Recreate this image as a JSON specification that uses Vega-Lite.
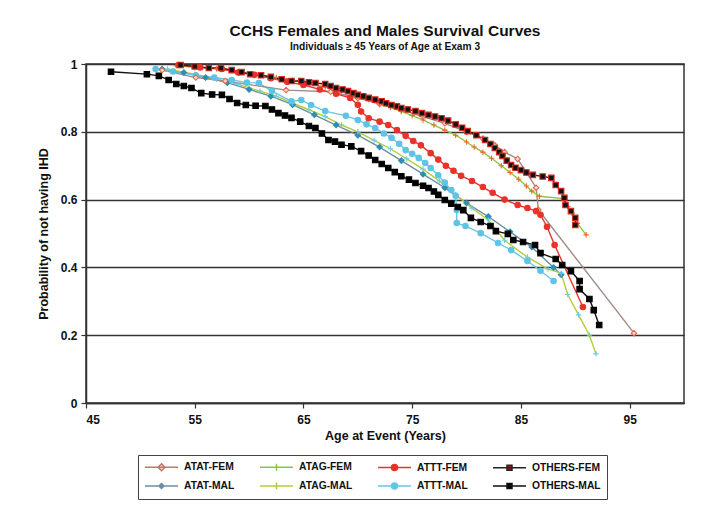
{
  "$schema": "https://vega.github.io/schema/vega-lite/v6.json",
  "width": 598,
  "height": 339,
  "padding": {"left": 37, "top": 24, "right": 38, "bottom": 5},
  "background": "white",
  "title": {
    "text": "CCHS Females and Males Survival Curves",
    "subtitle": "Individuals ≥ 45 Years of Age at Exam 3",
    "font": "Liberation Sans", "fontSize": 15.5, "fontWeight": "bold", "color": "#111",
    "subtitleFont": "Liberation Sans", "subtitleFontSize": 10.2, "subtitleFontWeight": "bold", "subtitleColor": "#111",
    "subtitlePadding": 2, "offset": 6, "anchor": "middle"
  },
  "config": {
    "view": {"stroke": "#333", "strokeWidth": 1.5},
    "font": "Liberation Sans",
    "legend": {
      "title": null, "orient": "none", "legendX": 52, "legendY": 391, "direction": "horizontal", "columns": 4, "columnPadding": 22, "rowPadding": 5,
      "gridAlign": "each",
      "strokeColor": "#444", "padding": 6,
      "labelFont": "Liberation Sans", "labelFontWeight": "bold", "labelFontSize": 10.3, "labelColor": "#111", "labelOffset": 28,
      "symbolSize": 100, "symbolStrokeWidth": 1.5, "symbolOpacity": 1
    }
  },
  "resolve": {
    "scale": {"shape": "independent", "fill": "independent", "stroke": "independent"},
    "legend": {"shape": "independent", "fill": "independent", "stroke": "independent"}
  },
  "data": {"values": [
    {"s":"ATAT-MAL","a":52,"p":0.985},{"s":"ATAT-MAL","a":54,"p":0.975},{"s":"ATAT-MAL","a":56,"p":0.96},{"s":"ATAT-MAL","a":58,"p":0.945},{"s":"ATAT-MAL","a":60,"p":0.925},{"s":"ATAT-MAL","a":62,"p":0.905},{"s":"ATAT-MAL","a":64,"p":0.88},{"s":"ATAT-MAL","a":66,"p":0.85},{"s":"ATAT-MAL","a":68,"p":0.82},{"s":"ATAT-MAL","a":70,"p":0.79},{"s":"ATAT-MAL","a":72,"p":0.755},{"s":"ATAT-MAL","a":74,"p":0.715},{"s":"ATAT-MAL","a":76,"p":0.675},{"s":"ATAT-MAL","a":78,"p":0.635},{"s":"ATAT-MAL","a":80,"p":0.59},{"s":"ATAT-MAL","a":82,"p":0.55},{"s":"ATAT-MAL","a":84,"p":0.505},{"s":"ATAT-MAL","a":86,"p":0.46},{"s":"ATAT-MAL","a":88,"p":0.4},{"s":"ATAT-MAL","a":88.7,"p":0.378},

    {"s":"ATAG-MAL","a":52.5,"p":0.985},{"s":"ATAG-MAL","a":55,"p":0.97},{"s":"ATAG-MAL","a":57,"p":0.955},{"s":"ATAG-MAL","a":59,"p":0.94},{"s":"ATAG-MAL","a":61,"p":0.92},{"s":"ATAG-MAL","a":62.5,"p":0.905},{"s":"ATAG-MAL","a":64,"p":0.885},{"s":"ATAG-MAL","a":65.5,"p":0.865},{"s":"ATAG-MAL","a":67,"p":0.845},{"s":"ATAG-MAL","a":68.5,"p":0.82},{"s":"ATAG-MAL","a":70,"p":0.8},{"s":"ATAG-MAL","a":71.5,"p":0.775},{"s":"ATAG-MAL","a":73,"p":0.75},{"s":"ATAG-MAL","a":74.5,"p":0.72},{"s":"ATAG-MAL","a":76,"p":0.69},{"s":"ATAG-MAL","a":77.5,"p":0.655},{"s":"ATAG-MAL","a":79,"p":0.615},{"s":"ATAG-MAL","a":80.5,"p":0.575},{"s":"ATAG-MAL","a":82,"p":0.54},{"s":"ATAG-MAL","a":83.5,"p":0.48},{"s":"ATAG-MAL","a":85.6,"p":0.43},{"s":"ATAG-MAL","a":87.5,"p":0.395},{"s":"ATAG-MAL","a":88.7,"p":0.383},{"s":"ATAG-MAL","a":89.3,"p":0.32},{"s":"ATAG-MAL","a":90.3,"p":0.26},{"s":"ATAG-MAL","a":91.3,"p":0.2},{"s":"ATAG-MAL","a":91.9,"p":0.145},

    {"s":"ATTT-MAL","a":51.4,"p":0.985},{"s":"ATTT-MAL","a":53,"p":0.978},{"s":"ATTT-MAL","a":55.1,"p":0.967},{"s":"ATTT-MAL","a":56.8,"p":0.96},{"s":"ATTT-MAL","a":58.4,"p":0.953},{"s":"ATTT-MAL","a":59.8,"p":0.945},{"s":"ATTT-MAL","a":60.9,"p":0.944},{"s":"ATTT-MAL","a":62.1,"p":0.92},{"s":"ATTT-MAL","a":63.9,"p":0.89},{"s":"ATTT-MAL","a":64.8,"p":0.894},{"s":"ATTT-MAL","a":65.7,"p":0.879},{"s":"ATTT-MAL","a":67,"p":0.861},{"s":"ATTT-MAL","a":68.9,"p":0.847},{"s":"ATTT-MAL","a":70,"p":0.835},{"s":"ATTT-MAL","a":70.8,"p":0.822},{"s":"ATTT-MAL","a":71.6,"p":0.811},{"s":"ATTT-MAL","a":72.4,"p":0.795},{"s":"ATTT-MAL","a":73.1,"p":0.782},{"s":"ATTT-MAL","a":73.8,"p":0.765},{"s":"ATTT-MAL","a":74.4,"p":0.746},{"s":"ATTT-MAL","a":75,"p":0.735},{"s":"ATTT-MAL","a":75.6,"p":0.723},{"s":"ATTT-MAL","a":76.2,"p":0.708},{"s":"ATTT-MAL","a":76.7,"p":0.693},{"s":"ATTT-MAL","a":77.4,"p":0.672},{"s":"ATTT-MAL","a":78,"p":0.65},{"s":"ATTT-MAL","a":78.6,"p":0.628},{"s":"ATTT-MAL","a":79,"p":0.611},{"s":"ATTT-MAL","a":79.1,"p":0.569},{"s":"ATTT-MAL","a":79.1,"p":0.531},{"s":"ATTT-MAL","a":79.9,"p":0.522},{"s":"ATTT-MAL","a":81.3,"p":0.501},{"s":"ATTT-MAL","a":82.9,"p":0.472},{"s":"ATTT-MAL","a":84.1,"p":0.451},{"s":"ATTT-MAL","a":85.6,"p":0.419},{"s":"ATTT-MAL","a":86.8,"p":0.39},{"s":"ATTT-MAL","a":88,"p":0.36},

    {"s":"OTHERS-MAL","a":47.3,"p":0.977},{"s":"OTHERS-MAL","a":50.6,"p":0.97},{"s":"OTHERS-MAL","a":51.7,"p":0.965},{"s":"OTHERS-MAL","a":52.6,"p":0.953},{"s":"OTHERS-MAL","a":53.3,"p":0.941},{"s":"OTHERS-MAL","a":54,"p":0.935},{"s":"OTHERS-MAL","a":54.7,"p":0.929},{"s":"OTHERS-MAL","a":55.6,"p":0.914},{"s":"OTHERS-MAL","a":56.6,"p":0.91},{"s":"OTHERS-MAL","a":57.5,"p":0.909},{"s":"OTHERS-MAL","a":58.2,"p":0.897},{"s":"OTHERS-MAL","a":58.9,"p":0.885},{"s":"OTHERS-MAL","a":59.7,"p":0.879},{"s":"OTHERS-MAL","a":60.6,"p":0.877},{"s":"OTHERS-MAL","a":61.5,"p":0.876},{"s":"OTHERS-MAL","a":62.1,"p":0.866},{"s":"OTHERS-MAL","a":62.7,"p":0.855},{"s":"OTHERS-MAL","a":63.3,"p":0.848},{"s":"OTHERS-MAL","a":63.9,"p":0.841},{"s":"OTHERS-MAL","a":64.7,"p":0.83},{"s":"OTHERS-MAL","a":65.5,"p":0.817},{"s":"OTHERS-MAL","a":66.1,"p":0.811},{"s":"OTHERS-MAL","a":66.7,"p":0.795},{"s":"OTHERS-MAL","a":67.3,"p":0.776},{"s":"OTHERS-MAL","a":67.9,"p":0.771},{"s":"OTHERS-MAL","a":68.5,"p":0.762},{"s":"OTHERS-MAL","a":69.4,"p":0.757},{"s":"OTHERS-MAL","a":70.3,"p":0.743},{"s":"OTHERS-MAL","a":71,"p":0.73},{"s":"OTHERS-MAL","a":71.6,"p":0.717},{"s":"OTHERS-MAL","a":72.2,"p":0.705},{"s":"OTHERS-MAL","a":72.8,"p":0.693},{"s":"OTHERS-MAL","a":73.4,"p":0.681},{"s":"OTHERS-MAL","a":74,"p":0.669},{"s":"OTHERS-MAL","a":74.7,"p":0.659},{"s":"OTHERS-MAL","a":75.3,"p":0.649},{"s":"OTHERS-MAL","a":76,"p":0.641},{"s":"OTHERS-MAL","a":76.5,"p":0.634},{"s":"OTHERS-MAL","a":77,"p":0.624},{"s":"OTHERS-MAL","a":77.4,"p":0.614},{"s":"OTHERS-MAL","a":78,"p":0.599},{"s":"OTHERS-MAL","a":78.6,"p":0.588},{"s":"OTHERS-MAL","a":79.2,"p":0.578},{"s":"OTHERS-MAL","a":79.7,"p":0.569},{"s":"OTHERS-MAL","a":80.4,"p":0.546},{"s":"OTHERS-MAL","a":81.3,"p":0.534},{"s":"OTHERS-MAL","a":82.2,"p":0.522},{"s":"OTHERS-MAL","a":82.7,"p":0.507},{"s":"OTHERS-MAL","a":83.8,"p":0.499},{"s":"OTHERS-MAL","a":84.3,"p":0.481},{"s":"OTHERS-MAL","a":85.2,"p":0.475},{"s":"OTHERS-MAL","a":86.3,"p":0.466},{"s":"OTHERS-MAL","a":86.8,"p":0.442},{"s":"OTHERS-MAL","a":88.2,"p":0.425},{"s":"OTHERS-MAL","a":88.8,"p":0.407},{"s":"OTHERS-MAL","a":89.6,"p":0.389},{"s":"OTHERS-MAL","a":90.4,"p":0.36},{"s":"OTHERS-MAL","a":90.4,"p":0.336},{"s":"OTHERS-MAL","a":91.3,"p":0.307},{"s":"OTHERS-MAL","a":91.7,"p":0.274},{"s":"OTHERS-MAL","a":92.2,"p":0.23},

    {"s":"ATAT-FEM","a":52,"p":0.982},{"s":"ATAT-FEM","a":55.1,"p":0.96},{"s":"ATAT-FEM","a":57.8,"p":0.95},{"s":"ATAT-FEM","a":63.4,"p":0.923},{"s":"ATAT-FEM","a":67.5,"p":0.918},{"s":"ATAT-FEM","a":70,"p":0.9},{"s":"ATAT-FEM","a":72,"p":0.882},{"s":"ATAT-FEM","a":74,"p":0.865},{"s":"ATAT-FEM","a":76,"p":0.845},{"s":"ATAT-FEM","a":78,"p":0.825},{"s":"ATAT-FEM","a":80,"p":0.8},{"s":"ATAT-FEM","a":81.5,"p":0.78},{"s":"ATAT-FEM","a":82.6,"p":0.76},{"s":"ATAT-FEM","a":83.5,"p":0.74},{"s":"ATAT-FEM","a":84.7,"p":0.72},{"s":"ATAT-FEM","a":85.5,"p":0.68},{"s":"ATAT-FEM","a":86.4,"p":0.635},{"s":"ATAT-FEM","a":86.6,"p":0.57},{"s":"ATAT-FEM","a":95.4,"p":0.206},

    {"s":"ATAG-FEM","a":53.3,"p":0.995},{"s":"ATAG-FEM","a":55,"p":0.99},{"s":"ATAG-FEM","a":57,"p":0.986},{"s":"ATAG-FEM","a":59,"p":0.978},{"s":"ATAG-FEM","a":61,"p":0.968},{"s":"ATAG-FEM","a":62.5,"p":0.96},{"s":"ATAG-FEM","a":64,"p":0.952},{"s":"ATAG-FEM","a":65.5,"p":0.942},{"s":"ATAG-FEM","a":67,"p":0.932},{"s":"ATAG-FEM","a":68.5,"p":0.92},{"s":"ATAG-FEM","a":70,"p":0.905},{"s":"ATAG-FEM","a":71,"p":0.895},{"s":"ATAG-FEM","a":72,"p":0.885},{"s":"ATAG-FEM","a":73,"p":0.872},{"s":"ATAG-FEM","a":74,"p":0.86},{"s":"ATAG-FEM","a":75,"p":0.848},{"s":"ATAG-FEM","a":76,"p":0.835},{"s":"ATAG-FEM","a":77,"p":0.82},{"s":"ATAG-FEM","a":78,"p":0.805},{"s":"ATAG-FEM","a":79,"p":0.79},{"s":"ATAG-FEM","a":80,"p":0.77},{"s":"ATAG-FEM","a":80.7,"p":0.755},{"s":"ATAG-FEM","a":81.5,"p":0.74},{"s":"ATAG-FEM","a":82.3,"p":0.722},{"s":"ATAG-FEM","a":83.2,"p":0.7},{"s":"ATAG-FEM","a":84,"p":0.68},{"s":"ATAG-FEM","a":84.8,"p":0.66},{"s":"ATAG-FEM","a":85.5,"p":0.64},{"s":"ATAG-FEM","a":86,"p":0.625},{"s":"ATAG-FEM","a":86.7,"p":0.61},{"s":"ATAG-FEM","a":88.9,"p":0.603},{"s":"ATAG-FEM","a":89.3,"p":0.58},{"s":"ATAG-FEM","a":89.7,"p":0.56},{"s":"ATAG-FEM","a":90.2,"p":0.53},{"s":"ATAG-FEM","a":91,"p":0.496},

    {"s":"ATTT-FEM","a":53.5,"p":0.997},{"s":"ATTT-FEM","a":55.5,"p":0.99},{"s":"ATTT-FEM","a":57.5,"p":0.985},{"s":"ATTT-FEM","a":59,"p":0.975},{"s":"ATTT-FEM","a":60.5,"p":0.968},{"s":"ATTT-FEM","a":62,"p":0.958},{"s":"ATTT-FEM","a":63.5,"p":0.948},{"s":"ATTT-FEM","a":65,"p":0.938},{"s":"ATTT-FEM","a":66.5,"p":0.925},{"s":"ATTT-FEM","a":68,"p":0.912},{"s":"ATTT-FEM","a":69.3,"p":0.9},{"s":"ATTT-FEM","a":70,"p":0.88},{"s":"ATTT-FEM","a":70.3,"p":0.86},{"s":"ATTT-FEM","a":71,"p":0.84},{"s":"ATTT-FEM","a":72,"p":0.83},{"s":"ATTT-FEM","a":72.8,"p":0.82},{"s":"ATTT-FEM","a":73.6,"p":0.805},{"s":"ATTT-FEM","a":74.4,"p":0.788},{"s":"ATTT-FEM","a":75.1,"p":0.773},{"s":"ATTT-FEM","a":75.8,"p":0.76},{"s":"ATTT-FEM","a":76.7,"p":0.737},{"s":"ATTT-FEM","a":77.4,"p":0.718},{"s":"ATTT-FEM","a":78.1,"p":0.7},{"s":"ATTT-FEM","a":78.8,"p":0.685},{"s":"ATTT-FEM","a":79.5,"p":0.67},{"s":"ATTT-FEM","a":80.5,"p":0.655},{"s":"ATTT-FEM","a":81.5,"p":0.637},{"s":"ATTT-FEM","a":82.4,"p":0.62},{"s":"ATTT-FEM","a":83.5,"p":0.6},{"s":"ATTT-FEM","a":84.7,"p":0.584},{"s":"ATTT-FEM","a":85.6,"p":0.575},{"s":"ATTT-FEM","a":86.4,"p":0.566},{"s":"ATTT-FEM","a":86.8,"p":0.555},{"s":"ATTT-FEM","a":87.4,"p":0.52},{"s":"ATTT-FEM","a":88.1,"p":0.466},{"s":"ATTT-FEM","a":90.7,"p":0.283},

    {"s":"OTHERS-FEM","a":53.7,"p":0.997},{"s":"OTHERS-FEM","a":55,"p":0.993},{"s":"OTHERS-FEM","a":56.3,"p":0.988},{"s":"OTHERS-FEM","a":57.4,"p":0.988},{"s":"OTHERS-FEM","a":58.4,"p":0.982},{"s":"OTHERS-FEM","a":59.3,"p":0.976},{"s":"OTHERS-FEM","a":60.1,"p":0.97},{"s":"OTHERS-FEM","a":61.1,"p":0.967},{"s":"OTHERS-FEM","a":62,"p":0.962},{"s":"OTHERS-FEM","a":63,"p":0.955},{"s":"OTHERS-FEM","a":63.9,"p":0.95},{"s":"OTHERS-FEM","a":64.8,"p":0.95},{"s":"OTHERS-FEM","a":65.5,"p":0.946},{"s":"OTHERS-FEM","a":66.1,"p":0.944},{"s":"OTHERS-FEM","a":67,"p":0.941},{"s":"OTHERS-FEM","a":67.5,"p":0.935},{"s":"OTHERS-FEM","a":68,"p":0.929},{"s":"OTHERS-FEM","a":68.6,"p":0.925},{"s":"OTHERS-FEM","a":69.1,"p":0.92},{"s":"OTHERS-FEM","a":69.6,"p":0.914},{"s":"OTHERS-FEM","a":70,"p":0.909},{"s":"OTHERS-FEM","a":70.5,"p":0.905},{"s":"OTHERS-FEM","a":71,"p":0.9},{"s":"OTHERS-FEM","a":71.6,"p":0.895},{"s":"OTHERS-FEM","a":72.2,"p":0.89},{"s":"OTHERS-FEM","a":72.6,"p":0.884},{"s":"OTHERS-FEM","a":73.1,"p":0.879},{"s":"OTHERS-FEM","a":73.6,"p":0.875},{"s":"OTHERS-FEM","a":74,"p":0.87},{"s":"OTHERS-FEM","a":74.6,"p":0.866},{"s":"OTHERS-FEM","a":75.3,"p":0.861},{"s":"OTHERS-FEM","a":75.9,"p":0.855},{"s":"OTHERS-FEM","a":76.5,"p":0.85},{"s":"OTHERS-FEM","a":77.1,"p":0.845},{"s":"OTHERS-FEM","a":77.7,"p":0.84},{"s":"OTHERS-FEM","a":78.3,"p":0.833},{"s":"OTHERS-FEM","a":79,"p":0.822},{"s":"OTHERS-FEM","a":79.6,"p":0.812},{"s":"OTHERS-FEM","a":80.1,"p":0.802},{"s":"OTHERS-FEM","a":80.9,"p":0.79},{"s":"OTHERS-FEM","a":81.7,"p":0.776},{"s":"OTHERS-FEM","a":82.2,"p":0.764},{"s":"OTHERS-FEM","a":82.6,"p":0.752},{"s":"OTHERS-FEM","a":83,"p":0.74},{"s":"OTHERS-FEM","a":83.3,"p":0.729},{"s":"OTHERS-FEM","a":83.7,"p":0.715},{"s":"OTHERS-FEM","a":84.1,"p":0.702},{"s":"OTHERS-FEM","a":84.5,"p":0.694},{"s":"OTHERS-FEM","a":85,"p":0.687},{"s":"OTHERS-FEM","a":85.5,"p":0.68},{"s":"OTHERS-FEM","a":86.1,"p":0.673},{"s":"OTHERS-FEM","a":87,"p":0.668},{"s":"OTHERS-FEM","a":87.8,"p":0.664},{"s":"OTHERS-FEM","a":88.2,"p":0.643},{"s":"OTHERS-FEM","a":88.7,"p":0.625},{"s":"OTHERS-FEM","a":89,"p":0.605},{"s":"OTHERS-FEM","a":89.1,"p":0.584},{"s":"OTHERS-FEM","a":89.6,"p":0.566},{"s":"OTHERS-FEM","a":90,"p":0.546},{"s":"OTHERS-FEM","a":90,"p":0.525}
  ]},
  "encoding": {
    "x": {"field": "a", "type": "quantitative", "scale": {"domain": [45, 100], "nice": false, "zero": false},
      "axis": {"values": [45, 55, 65, 75, 85, 95], "title": "Age at Event (Years)", "grid": false,
        "labelFont": "Liberation Sans", "labelFontWeight": "bold", "labelFontSize": 12, "labelColor": "#111", "labelPadding": 6,
        "titleFont": "Liberation Sans", "titleFontWeight": "bold", "titleFontSize": 12.5, "titleColor": "#111", "titlePadding": 4,
        "domainColor": "#333", "domainWidth": 1.5, "tickColor": "#333", "tickSize": 5, "tickWidth": 1.2}},
    "y": {"field": "p", "type": "quantitative", "scale": {"domain": [0, 1], "nice": false},
      "axis": {"values": [0, 0.2, 0.4, 0.6, 0.8, 1], "format": "~g", "title": "Probability of not having IHD", "grid": true,
        "gridColor": "#333", "gridWidth": 1.5, "gridOpacity": 1,
        "labelFont": "Liberation Sans", "labelFontWeight": "bold", "labelFontSize": 12, "labelColor": "#111", "labelPadding": 4,
        "titleFont": "Liberation Sans", "titleFontWeight": "bold", "titleFontSize": 12.5, "titleColor": "#111", "titlePadding": 10,
        "domainColor": "#333", "domainWidth": 1.5, "tickColor": "#333", "tickSize": 5, "tickWidth": 1.2}}
  },
  "layer": [
    {
      "mark": {"type": "line", "strokeWidth": 1.4},
      "encoding": {
        "color": {"field": "s", "type": "nominal", "legend": null,
          "scale": {"domain": ["ATAT-FEM","ATAG-FEM","ATTT-FEM","OTHERS-FEM","ATAT-MAL","ATAG-MAL","ATTT-MAL","OTHERS-MAL"],
            "range": ["#a08a86","#8cc63f","#e8322a","#4a1414","#6c8ea0","#b5cc3a","#66c6e4","#111111"]}},
        "detail": {"field": "s"}
      }
    },
    {
      "mark": {"type": "point", "filled": false, "strokeWidth": 1.1, "size": 30, "opacity": 1},
      "encoding": {
        "shape": {"field": "s", "type": "nominal", "legend": null,
          "scale": {"domain": ["ATAT-FEM","ATAG-FEM","ATTT-FEM","OTHERS-FEM","ATAT-MAL","ATAG-MAL","ATTT-MAL","OTHERS-MAL"],
            "range": ["diamond","M0,-1V1M-1,0H1","circle","square","diamond","M0,-1V1M-1,0H1","circle","square"]}},
        "fill": {"field": "s", "type": "nominal", "legend": null,
          "scale": {"domain": ["ATAT-FEM","ATAG-FEM","ATTT-FEM","OTHERS-FEM","ATAT-MAL","ATAG-MAL","ATTT-MAL","OTHERS-MAL"],
            "range": ["#f6d6cf","transparent","#e8322a","#111111","#2d8fb0","transparent","#5ec4e6","#000000"]}},
        "stroke": {"field": "s", "type": "nominal", "legend": null,
          "scale": {"domain": ["ATAT-FEM","ATAG-FEM","ATTT-FEM","OTHERS-FEM","ATAT-MAL","ATAG-MAL","ATTT-MAL","OTHERS-MAL"],
            "range": ["#e06a50","#f26522","#e8322a","#d42a20","#2d8fb0","#6ccbe8","#5ec4e6","#000000"]}}
      }
    },
    {
      "mark": {"type": "point", "filled": false, "strokeWidth": 1.5, "size": 100, "opacity": 0},
      "encoding": {
        "shape": {"field": "s", "type": "nominal", "legend": {},
          "scale": {"domain": ["ATAT-FEM","ATAG-FEM","ATTT-FEM","OTHERS-FEM","ATAT-MAL","ATAG-MAL","ATTT-MAL","OTHERS-MAL"],
            "range": ["M-1,0H5.6M2.3,-0.7L3,0L2.3,0.7L1.6,0Z","M-1,0H5.6M2.3,-0.7V0.7M1.6,0H3","M-1,0H5.6M1.7,0A0.6,0.6 0 1,0 2.9,0A0.6,0.6 0 1,0 1.7,0Z","M-1,0H5.6M1.8,-0.5H2.8V0.5H1.8Z","M-1,0H5.6M2.3,-0.5L2.8,0L2.3,0.5L1.8,0Z","M-1,0H5.6M2.3,-0.7V0.7M1.6,0H3","M-1,0H5.6M1.7,0A0.6,0.6 0 1,0 2.9,0A0.6,0.6 0 1,0 1.7,0Z","M-1,0H5.6M1.8,-0.5H2.8V0.5H1.8Z"]}},
        "fill": {"field": "s", "type": "nominal", "legend": {},
          "scale": {"domain": ["ATAT-FEM","ATAG-FEM","ATTT-FEM","OTHERS-FEM","ATAT-MAL","ATAG-MAL","ATTT-MAL","OTHERS-MAL"],
            "range": ["#f6d6cf","transparent","#e8322a","#b01818","#2d8fb0","transparent","#5ec4e6","#000000"]}},
        "stroke": {"field": "s", "type": "nominal", "legend": {},
          "scale": {"domain": ["ATAT-FEM","ATAG-FEM","ATTT-FEM","OTHERS-FEM","ATAT-MAL","ATAG-MAL","ATTT-MAL","OTHERS-MAL"],
            "range": ["#c07868","#8cc63f","#e8322a","#222222","#6c8ea0","#b5cc3a","#66c6e4","#111111"]}}
      }
    }
  ]
}
